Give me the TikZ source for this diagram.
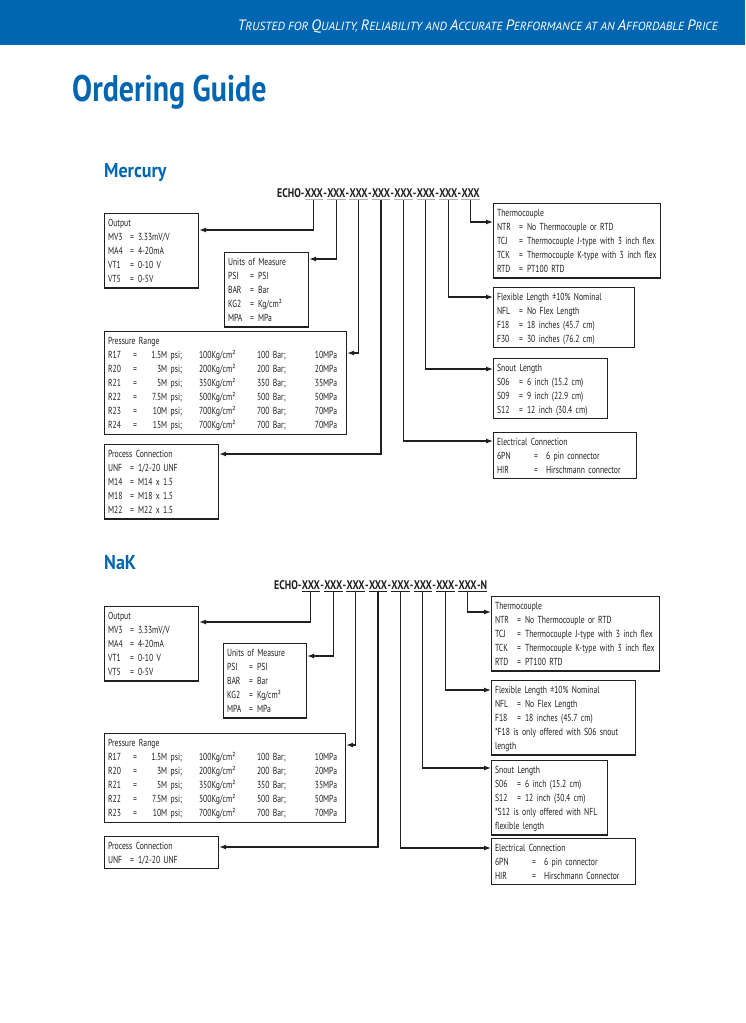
\documentclass[tikz,border=0pt]{standalone}
\usepackage{fontspec}
\usetikzlibrary{arrows.meta,calc}
\setmainfont{PT Sans}
\newfontfamily\bodyfont{PT Sans}[FakeStretch=0.75]
\newfontfamily\codefont{PT Sans}[FakeStretch=0.79]
\newfontfamily\titlefont{PT Sans}[FakeStretch=0.81]
\newfontfamily\headfont{PT Sans}[FakeStretch=0.9]
\definecolor{brand}{HTML}{0066B2}
\definecolor{ink}{HTML}{231F20}
\newcommand\hb[1]{{\fontsize{15}{15}\selectfont #1}}
\newcommand\kv[2]{\makebox[19pt][l]{#1}\makebox[10pt][c]{=}\hspace{1pt}#2}
\newcommand\kvw[2]{\makebox[30pt][l]{#1}\makebox[18pt][c]{=}\hspace{1pt}#2}
\newcommand\prow[5]{\makebox[20pt][l]{#1}\makebox[14pt][c]{=}\makebox[40pt][r]{#2 psi;}\hspace{17pt}\makebox[58pt][l]{#3Kg/cm²}\makebox[50pt][l]{#4 Bar;}\makebox[30pt][r]{#5MPa}}
\tikzset{
  mbox/.style={draw=ink, line width=1.1pt, anchor=north west, inner xsep=3.5pt, inner ysep=2.5pt,
    align=left, text width=#1, text=ink, font=\bodyfont\fontsize{10.2}{14.1}\selectfont,
    execute at begin node=\rule{0pt}{10pt}, execute at end node=\rule[-3pt]{0pt}{3pt}},
  code/.style={anchor=base west, inner xsep=0pt, inner ysep=2.5pt, text=ink, font=\codefont\bfseries\fontsize{12.5}{13}\selectfont},
  conn/.style={draw=ink, line width=1.2pt, -{Latex[length=7pt,width=5pt]}},
  uline/.style={line width=0.9pt},
  heading/.style={anchor=base west, inner sep=0pt, text=brand, font=\headfont\bfseries\fontsize{20}{21}\selectfont}
}
\begin{document}
\begin{tikzpicture}[x=1pt,y=-1pt]
\path[use as bounding box, fill=white] (0,0) rectangle (745,1023);
\fill[brand] (0,0) rectangle (745,45);
\node[anchor=base east, inner sep=0pt, text=white, font=\itshape\fontsize{11.8}{12}\selectfont] (tag) at (718,30)
  {\hb{T}RUSTED FOR \hb{Q}UALITY, \hb{R}ELIABILITY AND \hb{A}CCURATE \hb{P}ERFORMANCE AT AN \hb{A}FFORDABLE \hb{P}RICE};
\node[anchor=base west, inner sep=0pt, text=brand, font=\titlefont\bfseries\fontsize{37}{38}\selectfont] (title) at (72,101) {Ordering Guide};

% ================= Mercury =================
\node[heading] (hMerc) at (104,177) {Mercury};
\node[code] (mE) at (277,197.5) {ECHO-};
\node[code] (m1) at (mE.base east) {XXX};
\foreach \i [evaluate=\i as \p using int(\i-1)] in {2,...,8} {
  \node[code] (mh\i) at (m\p.base east) {-};
  \node[code] (m\i) at (mh\i.base east) {XXX};
}
\foreach \i in {1,...,8} \draw[uline, gray!60] ([yshift=-1.8pt]m\i.base west) -- ([yshift=-1.8pt]m\i.base east);

\node[mbox=87pt] (mOut) at (104,213) {Output\\ \kv{MV3}{3.33mV/V}\\ \kv{MA4}{4-20mA}\\ \kv{VT1}{0-10 V}\\ \kv{VT5}{0-5V}};
\node[mbox=77pt] (mUnit) at (224,252) {Units of Measure\\ \kv{PSI}{PSI}\\ \kv{BAR}{Bar}\\ \kv{KG2}{Kg/cm²}\\ \kv{MPA}{MPa}};
\node[mbox=235pt] (mPres) at (104,331) {Pressure Range\\ \prow{R17}{1.5M}{100}{100}{10}\\ \prow{R20}{3M}{200}{200}{20}\\ \prow{R21}{5M}{350}{350}{35}\\ \prow{R22}{7.5M}{500}{500}{50}\\ \prow{R23}{10M}{700}{700}{70}\\ \prow{R24}{15M}{700}{700}{70}};
\node[mbox=107pt] (mProc) at (104,444) {Process Connection\\ \kv{UNF}{1/2-20 UNF}\\ \kv{M14}{M14 x 1.5}\\ \kv{M18}{M18 x 1.5}\\ \kv{M22}{M22 x 1.5}};
\node[mbox=160pt] (mTher) at (493,203) {Thermocouple\\ \kv{NTR}{No Thermocouple or RTD}\\ \kv{TCJ}{Thermocouple J-type with 3 inch flex}\\ \kv{TCK}{Thermocouple K-type with 3 inch flex}\\ \kv{RTD}{PT100 RTD}};
\node[mbox=134pt] (mFlex) at (493,287) {Flexible Length ±10\% Nominal\\ \kv{NFL}{No Flex Length}\\ \kv{F18}{18 inches (45.7 cm)}\\ \kv{F30}{30 inches (76.2 cm)}};
\node[mbox=107pt] (mSnout) at (493,358) {Snout Length\\ \kv{S06}{6 inch (15.2 cm)}\\ \kv{S09}{9 inch (22.9 cm)}\\ \kv{S12}{12 inch (30.4 cm)}};
\node[mbox=136pt] (mElec) at (493,432) {Electrical Connection\\ \kvw{6PN}{6 pin connector}\\ \kvw{HIR}{Hirschmann connector}};

\draw[conn] (m1.south) |- ([yshift=-17pt]mOut.north east);
\draw[conn] (m2.south) |- ([yshift=-7pt]mUnit.north east);
\draw[conn] (m3.south) |- ([yshift=-22pt]mPres.north east);
\draw[conn] (m4.south) |- ([yshift=-10pt]mProc.north east);
\draw[conn] (m5.south) |- ([yshift=-9pt]mElec.north west);
\draw[conn] (m6.south) |- ([yshift=-11pt]mSnout.north west);
\draw[conn] (m7.south) |- ([yshift=-10pt]mFlex.north west);
\draw[conn] (m8.south) |- ([yshift=-19pt]mTher.north west);

% ================= NaK =================
\node[heading] (hNak) at (104,569) {NaK};
\node[code] (nE) at (274,589.5) {ECHO-};
\node[code] (n1) at (nE.base east) {XXX};
\foreach \i [evaluate=\i as \p using int(\i-1)] in {2,...,8} {
  \node[code] (nh\i) at (n\p.base east) {-};
  \node[code] (n\i) at (nh\i.base east) {XXX};
}
\node[code] (nN) at (n8.base east) {-N};
\foreach \i in {1,...,7} \draw[uline, ink] ([yshift=-1.8pt]n\i.base west) -- ([yshift=-1.8pt]n\i.base east);
\draw[uline, ink] ([yshift=-1.8pt]n8.base west) -- ([yshift=-1.8pt]nN.base east);

\node[mbox=87pt] (nOut) at (104,606) {Output\\ \kv{MV3}{3.33mV/V}\\ \kv{MA4}{4-20mA}\\ \kv{VT1}{0-10 V}\\ \kv{VT5}{0-5V}};
\node[mbox=76pt] (nUnit) at (223,643) {Units of Measure\\ \kv{PSI}{PSI}\\ \kv{BAR}{Bar}\\ \kv{KG2}{Kg/cm²}\\ \kv{MPA}{MPa}};
\node[mbox=234pt] (nPres) at (104,733) {Pressure Range\\ \prow{R17}{1.5M}{100}{100}{10}\\ \prow{R20}{3M}{200}{200}{20}\\ \prow{R21}{5M}{350}{350}{35}\\ \prow{R22}{7.5M}{500}{500}{50}\\ \prow{R23}{10M}{700}{700}{70}};
\node[mbox=107pt] (nProc) at (104,836) {Process Connection\\ \kv{UNF}{1/2-20 UNF}};
\node[mbox=161pt] (nTher) at (491,596) {Thermocouple\\ \kv{NTR}{No Thermocouple or RTD}\\ \kv{TCJ}{Thermocouple J-type with 3 inch flex}\\ \kv{TCK}{Thermocouple K-type with 3 inch flex}\\ \kv{RTD}{PT100 RTD}};
\node[mbox=137pt] (nFlex) at (491,680) {Flexible Length ±10\% Nominal\\ \kv{NFL}{No Flex Length}\\ \kv{F18}{18 inches (45.7 cm)}\\ \relax *F18 is only offered with S06 snout\\ length};
\node[mbox=109pt] (nSnout) at (491,760) {Snout Length\\ \kv{S06}{6 inch (15.2 cm)}\\ \kv{S12}{12 inch (30.4 cm)}\\ \relax *S12 is only offered with NFL\\ flexible length};
\node[mbox=137pt] (nElec) at (491,838) {Electrical Connection\\ \kvw{6PN}{6 pin connector}\\ \kvw{HIR}{Hirschmann Connector}};

\draw[conn] (n1.south) |- ([yshift=-16pt]nOut.north east);
\draw[conn] (n2.south) |- ([yshift=-13pt]nUnit.north east);
\draw[conn] (n3.south) |- ([yshift=-12pt]nPres.north east);
\draw[conn] (n4.south) |- ([yshift=-11pt]nProc.north east);
\draw[conn] (n5.south) |- ([yshift=-10pt]nElec.north west);
\draw[conn] (n6.south) |- ([yshift=-8pt]nSnout.north west);
\draw[conn] (n7.south) |- ([yshift=-10pt]nFlex.north west);
\draw[conn] (n8.south) |- ([yshift=-16pt]nTher.north west);
\end{tikzpicture}
\end{document}
